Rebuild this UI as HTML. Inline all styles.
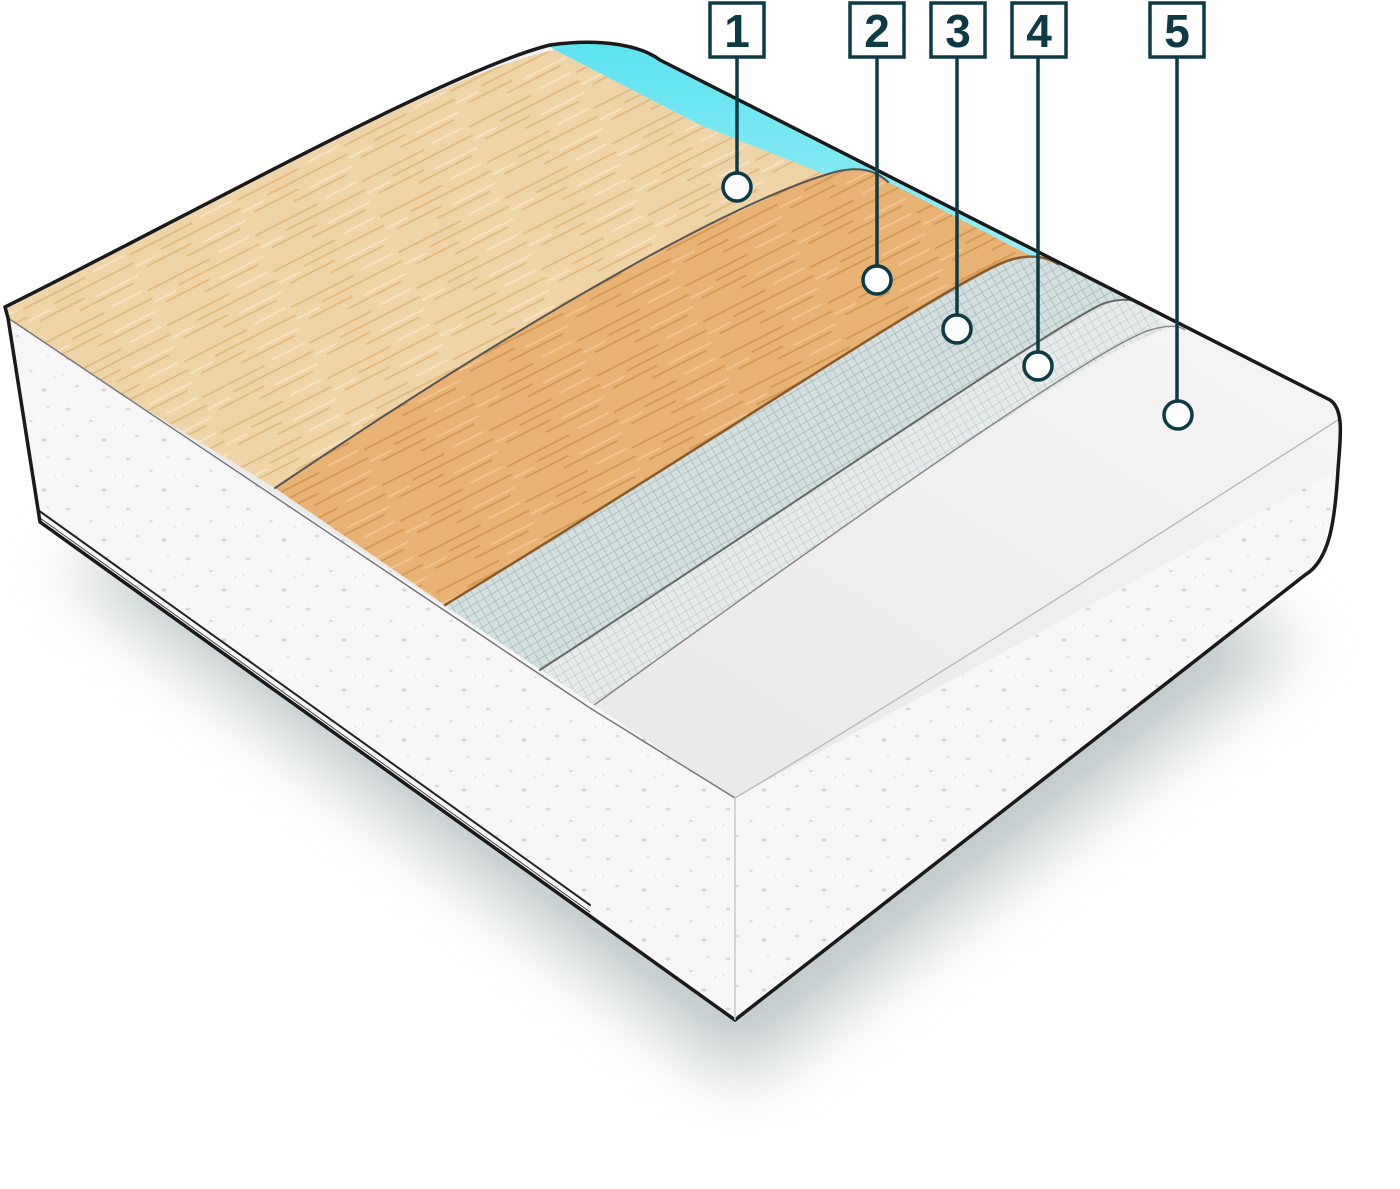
<!DOCTYPE html>
<html><head><meta charset="utf-8"><style>
html,body{margin:0;padding:0;background:#fff;}
svg{display:block}
</style></head><body>
<svg width="1400" height="1189" viewBox="0 0 1400 1189" xmlns="http://www.w3.org/2000/svg">
<defs>
<filter id="blur" x="-30%" y="-30%" width="160%" height="160%"><feGaussianBlur stdDeviation="35"/></filter>
<pattern id="mesh" width="8" height="8" patternUnits="userSpaceOnUse" patternTransform="rotate(-30)">
<rect width="8" height="8" fill="#d3dede"/>
<path d="M0 0H8M0 0V8" stroke="#9fb3b3" stroke-width="1.2"/>
</pattern>
<pattern id="mesh2" width="8" height="8" patternUnits="userSpaceOnUse" patternTransform="rotate(-30)">
<rect width="8" height="8" fill="#e6eaea"/>
<path d="M0 0H8M0 0V8" stroke="#b9c4c4" stroke-width="1.1"/>
</pattern>
<pattern id="foam" width="60" height="50" patternUnits="userSpaceOnUse">
<rect width="60" height="50" fill="#f7f7f7"/>
<ellipse cx="8" cy="9" rx="2.5" ry="1.5" fill="#d9d9d9"/>
<ellipse cx="31" cy="21" rx="1.8" ry="1.2" fill="#dcdcdc"/>
<ellipse cx="48" cy="7" rx="1.5" ry="1" fill="#e0e0e0"/>
<ellipse cx="17" cy="36" rx="2" ry="1.3" fill="#dadada"/>
<ellipse cx="44" cy="40" rx="2.6" ry="1.6" fill="#d6d6d6"/>
<ellipse cx="55" cy="27" rx="1.2" ry="0.9" fill="#e0e0e0"/>
<ellipse cx="3" cy="25" rx="1.2" ry="0.9" fill="#e0e0e0"/>
</pattern>
<pattern id="grain1" width="120" height="40" patternUnits="userSpaceOnUse" patternTransform="rotate(-27)">
<rect width="120" height="40" fill="#efd4a8"/>
<path d="M0 6H70M30 15H120M10 24H60M50 33H110" stroke="#e3bd85" stroke-width="2"/>
<path d="M80 4H115M0 19H25M70 28H118" stroke="#f6e2c2" stroke-width="2"/>
</pattern>
<pattern id="grain2" width="120" height="40" patternUnits="userSpaceOnUse" patternTransform="rotate(-27)">
<rect width="120" height="40" fill="#e8b274"/>
<path d="M0 6H70M30 15H120M10 24H60M50 33H110" stroke="#d49a55" stroke-width="2"/>
<path d="M80 4H115M0 19H25M70 28H118" stroke="#f0c48e" stroke-width="2"/>
</pattern>
<linearGradient id="wt" x1="0" y1="1" x2="1" y2="0">
<stop offset="0" stop-color="#e2e2e2"/><stop offset="1" stop-color="#fafafa"/></linearGradient>
<linearGradient id="cy" x1="0" y1="0" x2="0" y2="1">
<stop offset="0" stop-color="#5ce3ef"/><stop offset="1" stop-color="#9aeef5"/></linearGradient>
<clipPath id="top"><path d="M5,307 C200,210 450,70 550,45 C600,38 640,45 660,60 L1330,400 C1345,410 1340,440 1338,470 L735,798 L8,318 Z"/></clipPath>
</defs>
<path d="M60,560 L740,1080 L1300,640 L800,420 Z" fill="#8a9a9c" opacity="0.55" filter="url(#blur)"/>
<path d="M8,318 L735,798 L735,1020 L40,522 Z" fill="url(#foam)"/>
<path d="M735,798 C900,700 1150,540 1338,420 C1342,470 1335,540 1305,575 L735,1020 Z" fill="url(#foam)"/>
<g clip-path="url(#top)">
<rect x="0" y="0" width="1400" height="900" fill="url(#wt)"/>
<path d="M540,40 L660,40 L1065,265 L1035,258 L700,125 L555,50 Z" fill="url(#cy)"/>
<path d="M0,312 C200,210 450,70 555,50 L700,125 L870,192 C700,230 420,390 275,488 L0,320 Z" fill="url(#grain1)"/>
<path d="M275,488 C420,390 700,210 835,172 C860,166 875,170 888,182 L1035,258 C980,270 700,450 445,605 Z" fill="url(#grain2)"/>
<path d="M445,605 C700,450 960,275 1010,260 C1030,254 1045,256 1058,264 L1140,302 C1080,320 800,500 540,670 Z" fill="url(#mesh)"/>
<path d="M540,670 C800,500 1070,315 1105,303 C1125,297 1138,300 1145,306 L1170,328 C1100,345 850,520 590,708 Z" fill="url(#mesh2)"/>
<path d="M590,708 C850,520 1100,345 1150,330 C1170,324 1180,326 1185,330" fill="none" stroke="#888" stroke-width="1.5"/>
</g>
<g fill="none" stroke-linecap="round">
<path d="M275,488 C420,390 700,210 835,172 C860,166 875,170 888,182" stroke="#555" stroke-width="2"/>
<path d="M445,605 C700,450 960,275 1010,260 C1030,254 1045,256 1058,264" stroke="#8a5a2a" stroke-width="2.5"/>
<path d="M540,670 C800,500 1070,315 1105,303 C1125,297 1138,300 1145,306" stroke="#666" stroke-width="2"/>
<path d="M8,318 L590,708 L735,798" stroke="#777" stroke-width="1.5"/>
<path d="M735,798 C900,700 1150,540 1338,420" stroke="#bbb" stroke-width="1.5"/>
<path d="M38,510 L590,905" stroke="#222" stroke-width="2"/>
<path d="M40,518 L590,912" stroke="#444" stroke-width="1"/>
</g>
<path d="M5,307 C200,210 450,70 550,45 C600,38 640,45 660,60 L1330,400 C1345,410 1340,440 1338,470 C1335,520 1330,560 1305,575 L735,1020 L40,522 L8,318 Z" fill="none" stroke="#1a1a1a" stroke-width="3.5" stroke-linejoin="round"/>
<line x1="735" y1="798" x2="735" y2="1020" stroke="#ccc" stroke-width="1.5"/>
<g stroke="#0d3a45" stroke-width="3.5" fill="#fff">
<line x1="737" y1="58" x2="737" y2="174"/>
<line x1="877" y1="58" x2="877" y2="267"/>
<line x1="957" y1="58" x2="957" y2="315"/>
<line x1="1038" y1="58" x2="1038" y2="352"/>
<line x1="1177" y1="58" x2="1177" y2="401"/>
<rect x="710" y="3" width="54" height="54"/>
<rect x="850" y="3" width="54" height="54"/>
<rect x="931" y="3" width="54" height="54"/>
<rect x="1012" y="3" width="54" height="54"/>
<rect x="1150" y="3" width="54" height="54"/>
<circle cx="737" cy="187" r="14"/>
<circle cx="877" cy="280" r="14"/>
<circle cx="957" cy="329" r="14"/>
<circle cx="1038" cy="366" r="14"/>
<circle cx="1178" cy="415" r="14"/>
</g>
<g font-family="Liberation Sans, sans-serif" font-weight="bold" font-size="46" fill="#0d3a45" text-anchor="middle">
<text x="737" y="47">1</text>
<text x="877" y="47">2</text>
<text x="958" y="47">3</text>
<text x="1039" y="47">4</text>
<text x="1177" y="47">5</text>
</g>
</svg>
</body></html>
